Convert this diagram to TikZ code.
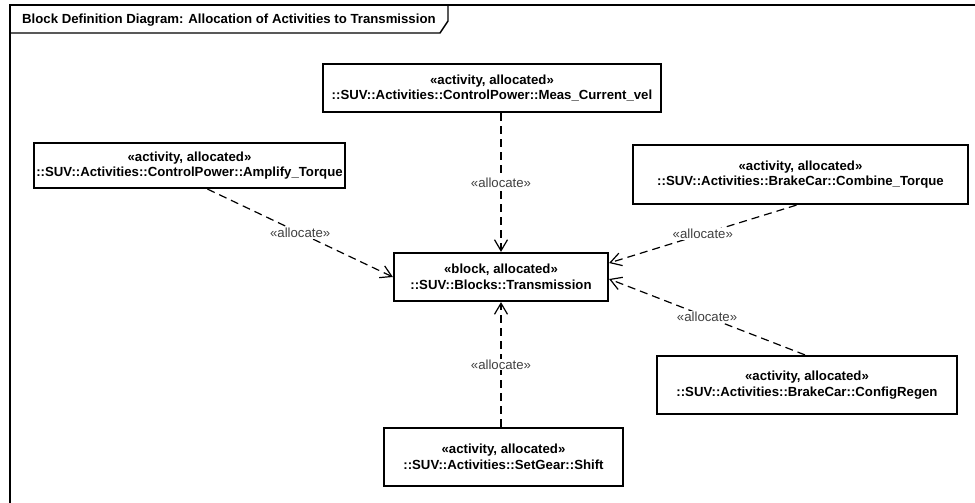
\documentclass[tikz,border=0pt]{standalone}
\usepackage{fontspec}
\setmainfont{Liberation Sans}
\usetikzlibrary{arrows.meta}
\begin{document}
\begin{tikzpicture}[x=1pt,y=-1pt,
  box/.style={draw, line width=2.2pt, rectangle, align=center, inner sep=0pt,
    font=\bfseries\fontsize{13.2}{15.5}\selectfont},
  alloc/.style={line width=1.2pt, dash pattern=on 8pt off 5pt,
    -{Straight Barb[length=11pt,width=13pt,line width=1.2pt]}},
  lbl/.style={fill=white, inner sep=1pt, text=black!75,
    font=\fontsize{13.2}{15}\selectfont},
  frameline/.style={line width=1.4pt}]
\useasboundingbox (0,0) rectangle (975,503);
% frame
\draw[frameline] (10,505) -- (10,5) -- (976,5);
\draw[frameline] (10,33) -- (440,33) -- (448,21) -- (448,5);
\node[anchor=west, inner sep=0pt, font=\bfseries\fontsize{13.2}{15}\selectfont] (title) at (22,20)
  {Block Definition Diagram: Allocation of Activities to Transmission};
% blocks
\node[box, minimum width=338pt, minimum height=48pt] (meas) at (492,88)
  {«activity, allocated»\\::SUV::Activities::ControlPower::Meas\_Current\_vel};
\node[box, minimum width=311pt, minimum height=45pt] (amp) at (189.5,165.5)
  {«activity, allocated»\\::SUV::Activities::ControlPower::Amplify\_Torque};
\node[box, minimum width=335pt, minimum height=59pt] (comb) at (800.5,174.5)
  {«activity, allocated»\\::SUV::Activities::BrakeCar::Combine\_Torque};
\node[box, minimum width=214pt, minimum height=48pt] (trans) at (501,277)
  {«block, allocated»\\::SUV::Blocks::Transmission};
\node[box, minimum width=300pt, minimum height=58pt] (conf) at (807,385)
  {«activity, allocated»\\::SUV::Activities::BrakeCar::ConfigRegen};
\node[box, minimum width=239pt, minimum height=58pt] (shift) at (503.5,457)
  {«activity, allocated»\\::SUV::Activities::SetGear::Shift};
% connectors
\draw[alloc] (meas.south -| trans.north) -- node[lbl] {«allocate»} (trans.north);
\draw[alloc] ([xshift=18pt]amp.south) -- node[lbl] {«allocate»} (trans.west);
\draw[alloc] ([xshift=-4pt]comb.south) -- node[lbl] {«allocate»} ([yshift=14pt]trans.east);
\draw[alloc] ([xshift=-2pt]conf.north) -- node[lbl] {«allocate»} ([yshift=-2pt]trans.east);
\draw[alloc] (trans.south |- shift.north) -- node[lbl] {«allocate»} (trans.south);
\end{tikzpicture}
\end{document}
